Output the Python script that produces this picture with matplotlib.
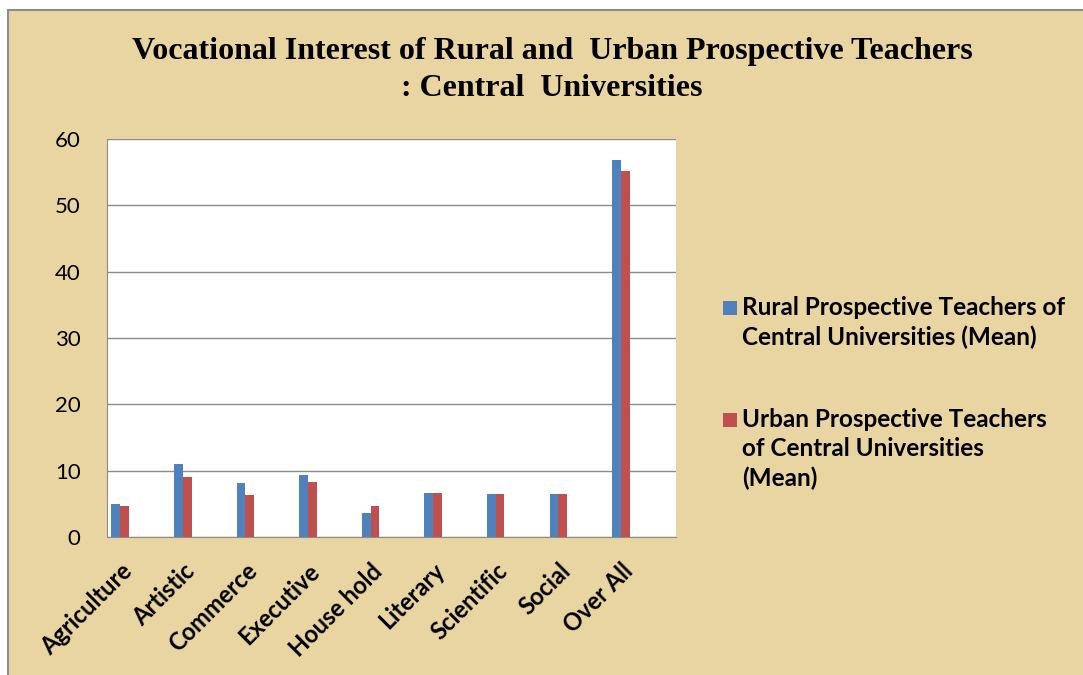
import matplotlib
matplotlib.use("Agg")
import matplotlib.pyplot as plt
from matplotlib.patches import Rectangle
import numpy as np

categories = ["Agriculture", "Artistic", "Commerce", "Executive", "House hold",
              "Literary", "Scientific", "Social", "Over All"]
rural_mean = [5.0, 11.0, 8.1, 9.3, 3.6, 6.7, 6.5, 6.5, 56.8]
urban_mean = [4.6, 9.1, 6.4, 8.3, 4.6, 6.7, 6.5, 6.5, 55.2]
series_labels = ["Rural Prospective Teachers of\nCentral Universities (Mean)",
                 "Urban Prospective Teachers\nof Central Universities\n(Mean)"]
y_ticks = [0, 10, 20, 30, 40, 50, 60]

BLUE = "#4F81BD"
RED = "#C0504D"
PAPER = "#E9D5A2"
W, H = 1083, 675

fig = plt.figure(figsize=(W / 100, H / 100), dpi=100, facecolor="white")

# parchment panel with grey frame, behind everything
fig.patches.append(Rectangle((8 / W, -0.01), 1.0, 1 - 10 / H + 0.01,
                             transform=fig.transFigure, facecolor=PAPER,
                             edgecolor="#8C8C8C", linewidth=1.5, zorder=-10))

ax = fig.add_axes([107 / W, 1 - 537 / H, (676 - 107) / W, (537 - 139) / H])
ax.set_facecolor("white")

x = np.arange(len(categories))
w = 0.14
ax.bar(x - w / 2, rural_mean, width=w, color=BLUE, zorder=3)
ax.bar(x + w / 2, urban_mean, width=w, color=RED, zorder=3)

ax.set_xlim(-0.21, 8.88)
ax.set_ylim(0, 60)
ax.set_yticks(y_ticks)
ax.yaxis.grid(True, color="#8C8C8C", linewidth=1)
ax.set_axisbelow(True)
for s in ["top", "right"]:
    ax.spines[s].set_visible(False)
for s in ["left", "bottom"]:
    ax.spines[s].set_color("#8C8C8C")
ax.tick_params(axis="y", length=0, pad=19, labelsize=16)
ax.tick_params(axis="x", length=0, pad=16)
ax.set_xticks(x)
ax.set_xticklabels(categories, rotation=45, ha="right", va="top",
                   rotation_mode="anchor", fontsize=17, fontweight="bold",
                   family="Lato")
for t in ax.get_yticklabels():
    t.set_family("Lato")

fig.text(552 / W, 1 - 52 / H,
         "Vocational Interest of Rural and  Urban Prospective Teachers",
         ha="center", va="center", family="Liberation Serif",
         fontweight="bold", fontsize=23)
fig.text(552 / W, 1 - 88 / H, ": Central  Universities",
         ha="center", va="center", family="Liberation Serif",
         fontweight="bold", fontsize=23)

# legend: square swatch level with the first line of each entry
legend_tops = [296, 408]
for top, color, label in zip(legend_tops, [BLUE, RED], series_labels):
    fig.patches.append(Rectangle((723 / W, 1 - (top + 19) / H), 14 / W, 14 / H,
                                 transform=fig.transFigure, facecolor=color,
                                 edgecolor="none"))
    fig.text(742 / W, 1 - top / H, label, ha="left", va="top",
             family="Lato", fontweight="bold", fontsize=17.5, linespacing=1.32)

fig.savefig("out.png", dpi=100, facecolor="white")
